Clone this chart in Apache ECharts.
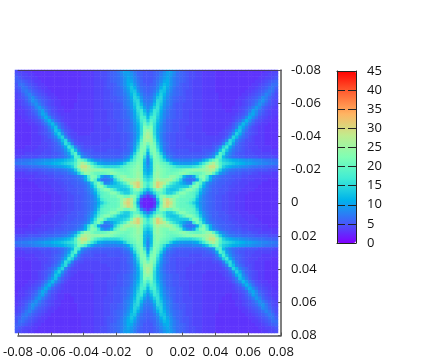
<!DOCTYPE html>
<html><head><meta charset="utf-8">
<style>html,body{margin:0;padding:0;background:#fff}#c{width:440px;height:360px}</style>
<script src="https://cdn.jsdelivr.net/npm/echarts@6/dist/echarts.min.js"></script>
</head><body><div id="c"></div>
<script>
const tickLabels = ['-0.08','-0.06','-0.04','-0.02','0','0.02','0.04','0.06','0.08'];
const barLabels = ['0','5','10','15','20','25','30','35','40','45'];
const palette = ['#8000ff','#4062fa','#00b4eb','#40ecd4','#80ffb4','#c0ec8e','#ffb462','#ff6232','#ff0000'];
// Upper-right quadrant: rows run from the top edge to the centre row,
// each row from the centre column to the right edge. The figure mirrors across both axes.
const quadrant = [
[5,5,5.5,6,7,8.5,10,10,8.5,7,6,5.5,5,4.5,4.5,4,4,3.5,3.5,3.5,3.5,3,3,3,3,3,3,3,3,3,3,3,3,3,3,3,3.5,3.5,4,4,4.5],
[5,5,5.5,6,7.5,9,10,9.5,8,6.5,6,5.5,5,4.5,4.5,4,4,3.5,3.5,3.5,3.5,3,3,3,3,3,3,3,3,3,3,3,3,3,3,3.5,3.5,4,4,4.5,5],
[5,5,5.5,6.5,8,9.5,10.5,9,7.5,6.5,6,5.5,5,4.5,4.5,4,4,3.5,3.5,3.5,3.5,3,3,3,3,3,3,3,3,3,3,3,3,3,3.5,3.5,4,4,4.5,5,5.5],
[5,5,6,7,8.5,10.5,11,9,7.5,6.5,6,5.5,5,4.5,4,4,4,3.5,3.5,3.5,3.5,3,3,3,3,3,3,3,3,3,3,3,3,3.5,3.5,4,4.5,5,5.5,6,5.5],
[5,5.5,6,7.5,9.5,12,11,9,7.5,6.5,5.5,5,5,4.5,4,4,4,3.5,3.5,3.5,3.5,3,3,3,3,3,3,3,3,3,3,3,3.5,3.5,4,4.5,5,5.5,6.5,6.5,5],
[5.5,6,6.5,8,11,13,10.5,8.5,7,6,5.5,5,5,4.5,4,4,4,3.5,3.5,3.5,3.5,3,3,3,3,3,3,3,3,3,3,3.5,3.5,4,4.5,5,5.5,6.5,7,5.5,5],
[5.5,6,7,9,13,12.5,9.5,8,6.5,6,5.5,5,4.5,4.5,4,4,4,3.5,3.5,3.5,3.5,3,3,3,3,3,3,3,3,3,3.5,3.5,4,4.5,5,5.5,6.5,7.5,6.5,5,4.5],
[6,6.5,8,11,14,11.5,9,7.5,6.5,6,5.5,5,4.5,4.5,4,4,4,3.5,3.5,3.5,3.5,3.5,3,3,3,3,3,3,3,3.5,3.5,4,4.5,5,5.5,6.5,8,7,5.5,4.5,4],
[6.5,7,9,13,14.5,10.5,8.5,7,6,5.5,5,5,4.5,4.5,4,4,4,3.5,3.5,3.5,3.5,3.5,3,3,3,3,3,3,3.5,3.5,4,4.5,5,5.5,6.5,8.5,7.5,6,5,4.5,4],
[7,7.5,10,15,14,10,8,7,6,5.5,5,5,4.5,4.5,4,4,4,3.5,3.5,3.5,3.5,3.5,3,3,3,3,3,3.5,3.5,4,4.5,5,5.5,6.5,8,9,7,5.5,4.5,4,3.5],
[7.5,8.5,12,15.5,13,9.5,8,7,5.5,5,5,4.5,4.5,4.5,4,4,4,3.5,3.5,3.5,3.5,3.5,3.5,3,3,3,3,3.5,3.5,4,4.5,5,6,7.5,9,7.5,6,5,4.5,4,3.5],
[8,10,14,16,12,9,7.5,6.5,5.5,5,5,4.5,4.5,4.5,4,4,4,3.5,3.5,3.5,3.5,3.5,3.5,3,3,3,3.5,3.5,4,4.5,5,6,7.5,9.5,8,6,5,4.5,4,3.5,3.5],
[9,12,16.5,15.5,11,8.5,7,6,5.5,5,5,4.5,4.5,4,4,4,4,3.5,3.5,3.5,3.5,3.5,3.5,3.5,3,3,3.5,3.5,4,4.5,5.5,7,10,8.5,6.5,5.5,4.5,4,3.5,3.5,3],
[10.5,14,17,14.5,10.5,8,7,6,5.5,5,5,4.5,4.5,4,4,4,4,3.5,3.5,3.5,3.5,3.5,3.5,3.5,3.5,3.5,3.5,4,4.5,5,6,9,10.5,8,6,5,4.5,4,3.5,3.5,3],
[12,17,18,13.5,10,8,6.5,6,5.5,5,5,4.5,4.5,4,4,4,4,3.5,3.5,3.5,3.5,3.5,3.5,3.5,3.5,3.5,4,4.5,5,6,8.5,11,8.5,6.5,5,4.5,4,3.5,3.5,3,3],
[14.5,19,17,12.5,9.5,7.5,6,5.5,5,5,4.5,4.5,4.5,4,4,4,4,3.5,3.5,3.5,3.5,3.5,3.5,3.5,3.5,3.5,4,5,6,8.5,11.5,9,6.5,5,4.5,4,3.5,3.5,3,3,3],
[17.5,20.5,16,11.5,9,7,6,5.5,5,5,4.5,4.5,4.5,4,4,4,4,3.5,3.5,3.5,3.5,3.5,3.5,3.5,3.5,4,5,6.5,8.5,12,9.5,7,5.5,4.5,4,3.5,3.5,3,3,3,3],
[21,22.5,15.5,11,8.5,7,6,5.5,5,5,4.5,4.5,4,4,4,4,4,3.5,3.5,3.5,3.5,3.5,3.5,3.5,4,4.5,5.5,7.5,12.5,10,7.5,5.5,4.5,4,3.5,3.5,3,3,3,3,3],
[24.5,23,15.5,10.5,8.5,7,6,5.5,5,5,4.5,4.5,4,4,4,4,4,3.5,3.5,3.5,3.5,3.5,3.5,4,4.5,5,7,11,13,8.5,6.5,5,4.5,4,3.5,3.5,3,3,3,3,3],
[26.5,24,15.5,10.5,8,6.5,5.5,5,5,4.5,4.5,4.5,4,4,4,4,4,4,3.5,3.5,3.5,3.5,4,4,4.5,6,9,14,11,7.5,5.5,5,4.5,4,3.5,3.5,3,3,3,3,3],
[27,25,17,11,8,6.5,5.5,5,5,4.5,4.5,4.5,4,4,4,4,4,4,4,4,4,4,4,4.5,5.5,8,14.5,12,8,6.5,5.5,4.5,4,3.5,3.5,3.5,3,3,3,3,3],
[25,25,19,12,8.5,6.5,5.5,5,5,4.5,4.5,4.5,4.5,4,4,4,4,4,4,4,4,4,4.5,5.5,8,15,12.5,8,6.5,5.5,4.5,4.5,4,3.5,3.5,3.5,3,3,3,3,3],
[21,24,21,13.5,9,7,6,5,5,4.5,4.5,4.5,4.5,4.5,4.5,4,4,4,4,4,4.5,4.5,5,7.5,13,15.5,10,7,5.5,5,4.5,4,4,3.5,3.5,3.5,3,3,3,3,3],
[17,23,22,15,10,7,6,5,5,4.5,4.5,4.5,4.5,4.5,4.5,4.5,4.5,4.5,4.5,4.5,5,6,8,14,16.5,11,8,6,5.5,5,4.5,4,4,4,3.5,3.5,3.5,3.5,3,3,3],
[14,22,23,17,11,7.5,6,5.5,5,5,5,5,5,4.5,4.5,4.5,4.5,5,5,5,5.5,7.5,12.5,17.5,13,9,7,6,5.5,5,4.5,4.5,4,4,4,3.5,3.5,3.5,3.5,3.5,3.5],
[11,20,23,20,14,9,6.5,6,5.5,5,5,5,5,5,5,5,5,5,5.5,6,7,10.5,19,16,10,8,6.5,5.5,5,5,4.5,4.5,4.5,4,4,4,4,4,3.5,3.5,3.5],
[9,16,23,21,17,11.5,8,7,6,5.5,5.5,5.5,5.5,5.5,5.5,5.5,5.5,6,6.5,7.5,9,17,19,12,9,7.5,6.5,6,5.5,5.5,5,5,5,5,4.5,4.5,4.5,4.5,4.5,4,4],
[8,13,22,22,19,15,11,9,8,8,7.5,7.5,7.5,7.5,8,8,8.5,10.5,13,17,20,22,17,14,13,12,11,10.5,10,9.5,9,9,8.5,8,8,7.5,7,7,6.5,6.5,6],
[8,12,22,23,21,20,18,14,11,10,9.5,9.5,9.5,9.5,10,11,14,17,21,25,27,23,19,16,15,14,13,12,11.5,11,10,10,9.5,9,8.5,8,8,7.5,7.5,7,7],
[9,12,22,24,22,21,20,19,17,15.5,15,15,15,15,16,17,19,22,26,29,29,25,19,14,12,11,10,9.5,9,8.5,8,7.5,7,7,6.5,6.5,6,6,5.5,5.5,5],
[10,12,22,24,23,22,21,20,20,20.5,21,22,23,23,24,24,24,24.5,25.5,27,26,20,14,10,8.5,7.5,7,6.5,6.5,6,6,5.5,5.5,5,5,5,5,4.5,4.5,4.5,4.5],
[11,13,23,25,23,22,21,21,21.5,22,23,24,22,21,20.5,20,20.5,22,24,24,19.5,14,9.5,8,7,6,6,5.5,5.5,5,5,5,4.5,4.5,4,4,4,4,3.5,3.5,3.5],
[13,15,23,25,23,22,22,24,24,22,19,12,9,8,10,17,22,23,18,11.5,8.5,7.5,6.5,6,5.5,5.5,5,5,5,4.5,4.5,4,4,4,4,3.5,3.5,3.5,3.5,3.5,3.5],
[15,17,24,27,25,25,26,25,22,19,14,8.5,7,6.5,7,11,19,22,16,10.5,7.5,6.5,6,5.5,5.5,5,5,4.5,4.5,4,4,4,4,3.5,3.5,3.5,3.5,3,3,3,3],
[17,20,26,31,29,27,23,19,16,14,12,10,8.5,8,17,22,19,13,9,7.5,6.5,6,5.5,5.5,5,5,4.5,4.5,4,4,4,3.5,3.5,3.5,3.5,3,3,3,3,3,3],
[16,20,26,31,28,22,17,15,14,13.5,13.5,13.5,14,18,23,22,16,11,8,6.5,6,5.5,5.5,5,5,4.5,4.5,4,4,4,3.5,3.5,3.5,3.5,3,3,3,3,3,3,3],
[12,15,20,24,22,18,14,13,13,14,17,20,23,23,21,18,13,9,7.5,6.5,5.5,5.5,5,5,5,4.5,4,4,4,3.5,3.5,3.5,3.5,3,3,3,3,3,3,3,3],
[7,10,15,19,20,17,14,14,16,20,23,23,21,20,19,16,11,8.5,7,6,5.5,5.5,5,5,4.5,4,4,4,3.5,3.5,3.5,3,3,3,3,3,3,3,3,3,3],
[3,5,8,17,23,24,21,21,23,23,21,21,20,20,19,14,9.5,7.5,6.5,6,5.5,5,5,4.5,4.5,4,4,3.5,3.5,3.5,3,3,3,3,3,3,3,3,3,3,3],
[2,2,4,13,22,28,30,27,24,21,20,20,20,19,17,12,9,7.5,6.5,6,5.5,5,5,4.5,4.5,4,4,3.5,3.5,3.5,3,3,3,3,3,3,3,3,3,3,3],
[2,2,3,10,20,28,31,29,24,21,20,20,19,17,14,11,8.5,7.5,6.5,6,5.5,5,5,4.5,4.5,4,4,3.5,3.5,3.5,3,3,3,3,3,3,3,3,3,3,3]
];
const HALF = 40;
const cells = [];
for (let r = -HALF; r < HALF; r++) {
  for (let c = -HALF; c < HALF; c++) {
    cells.push([c + HALF, r + HALF, quadrant[HALF - Math.abs(r)][Math.abs(c)]]);
  }
}
const cats = Array.from({length: 2 * HALF}, (_, i) => i);
const font = {fontFamily: 'Open Sans', fontSize: 13, color: '#111'};
const frame = '#555';
const chart = echarts.init(document.getElementById('c'), null, {renderer: 'canvas'});
chart.setOption({
  animation: false,
  backgroundColor: '#fff',
  grid: [
    {left: 15, top: 70, width: 263, height: 263, show: false, z: 1},
    {left: 15, top: 70, width: 266, height: 265.5, show: false, z: 3},
    {left: 337, top: 71, width: 19, height: 172, show: false, z: 5}
  ],
  xAxis: [
    {gridIndex: 0, type: 'category', data: cats, show: false},
    {gridIndex: 1, type: 'value', min: -0.08, max: 0.08, interval: 0.02, position: 'bottom', z: 5,
      axisLine: {show: true, onZero: false, lineStyle: {color: frame, width: 1.5}},
      axisTick: {show: true, inside: true, length: 3, lineStyle: {color: frame}},
      splitLine: {show: false},
      axisLabel: Object.assign({margin: 10, formatter: v => tickLabels[Math.round((v + 0.08) / 0.02)]}, font)},
    {gridIndex: 1, type: 'value', min: -0.08, max: 0.08, position: 'top', z: 5,
      axisLine: {show: true, onZero: false, lineStyle: {color: '#443a66', width: 1}},
      axisTick: {show: false}, splitLine: {show: false}, axisLabel: {show: false}},
    {gridIndex: 2, type: 'value', min: 0, max: 1, position: 'top', z: 8,
      axisLine: {show: true, onZero: false, lineStyle: {color: '#222', width: 1}},
      axisTick: {show: false}, splitLine: {show: false}, axisLabel: {show: false}},
    {gridIndex: 2, type: 'value', min: 0, max: 1, position: 'bottom', z: 8,
      axisLine: {show: true, onZero: false, lineStyle: {color: '#222', width: 1}},
      axisTick: {show: false}, splitLine: {show: false}, axisLabel: {show: false}}
  ],
  yAxis: [
    {gridIndex: 0, type: 'category', data: cats, show: false, inverse: true},
    {gridIndex: 1, type: 'value', min: -0.08, max: 0.08, interval: 0.02, inverse: true, position: 'right', z: 5,
      axisLine: {show: true, onZero: false, lineStyle: {color: frame, width: 1.5}},
      axisTick: {show: true, inside: true, length: 3, lineStyle: {color: frame}},
      splitLine: {show: false},
      axisLabel: Object.assign({margin: 10, padding: [7, 0, 0, 0], formatter: v => tickLabels[Math.round((v + 0.08) / 0.02)]}, font)},
    {gridIndex: 2, type: 'value', min: 0, max: 45, interval: 5, position: 'right', z: 8,
      axisLine: {show: true, onZero: false, lineStyle: {color: '#222', width: 1}},
      axisTick: {show: true, inside: true, length: 8, lineStyle: {color: '#222', width: 1}},
      splitLine: {show: false},
      axisLabel: Object.assign({margin: 11, padding: [2, 0, 0, 0], formatter: v => barLabels[Math.round(v / 5)]}, font)},
    {gridIndex: 2, type: 'value', min: 0, max: 45, interval: 5, position: 'left', z: 8,
      axisLine: {show: true, onZero: false, lineStyle: {color: '#222', width: 1}},
      axisTick: {show: true, inside: true, length: 8, lineStyle: {color: '#222', width: 1}},
      splitLine: {show: false}, axisLabel: {show: false}}
  ],
  visualMap: {
    type: 'continuous', min: 0, max: 45, seriesIndex: 0, calculable: false, realtime: false,
    left: 337, top: 71, itemWidth: 19, itemHeight: 172, padding: 0, text: null, showLabel: false,
    inRange: {color: palette}, hoverLink: false, z: 4,
    handleSize: 0, indicatorSize: 0
  },
  series: [{
    type: 'heatmap', xAxisIndex: 0, yAxisIndex: 0, data: cells, progressive: 0, silent: true,
    itemStyle: {borderWidth: 0}, emphasis: {disabled: true}, z: 1
  }]
});
</script></body></html>
